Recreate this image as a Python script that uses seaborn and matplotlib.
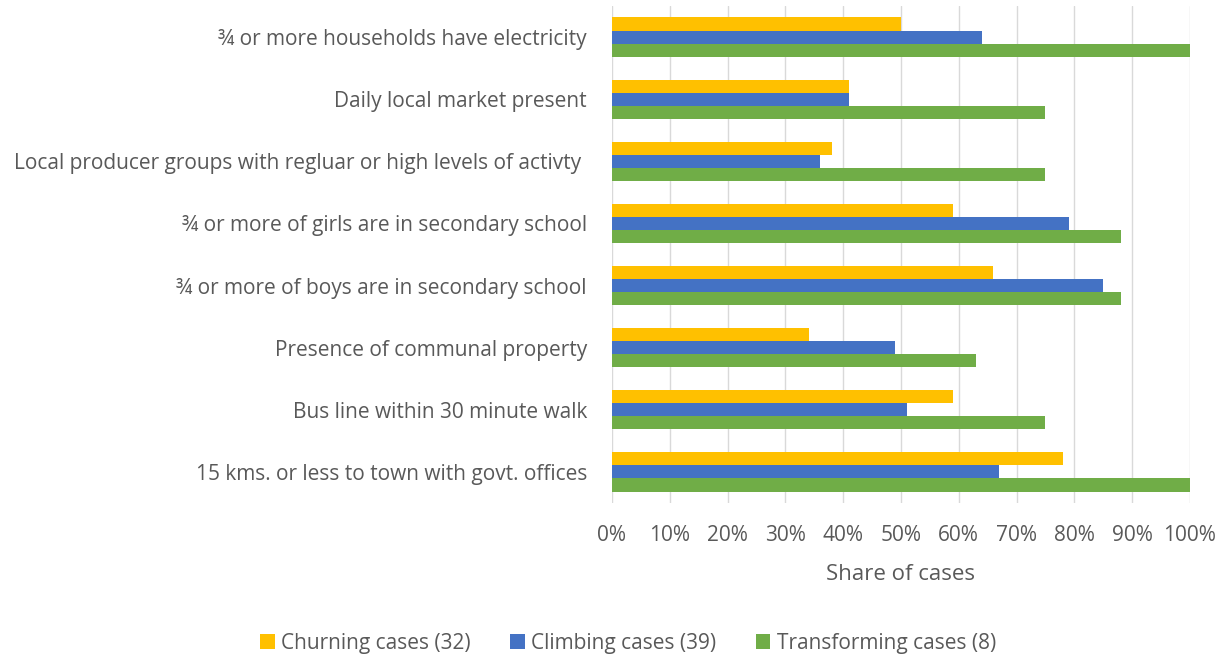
import matplotlib
matplotlib.use("Agg")
import matplotlib.pyplot as plt
import seaborn as sns
import pandas as pd
from matplotlib.ticker import PercentFormatter, MultipleLocator
from matplotlib.patches import Patch

categories = [
    "¾ or more households have electricity",
    "Daily local market present",
    "Local producer groups with regluar or high levels of activty ",
    "¾ or more of girls are in secondary school",
    "¾ or more of boys are in secondary school",
    "Presence of communal property",
    "Bus line within 30 minute walk",
    "15 kms. or less to town with govt. offices",
]
series_names = ["Churning cases (32)", "Climbing cases (39)", "Transforming cases (8)"]
churning = [50, 41, 38, 59, 66, 34, 59, 78]
climbing = [64, 41, 36, 79, 85, 49, 51, 67]
transforming = [100, 75, 75, 88, 88, 63, 75, 100]
colors = ["#FFC000", "#4472C4", "#70AD47"]

rows = []
for name, vals in zip(series_names, [churning, climbing, transforming]):
    for c, v in zip(categories, vals):
        rows.append({"category": c, "series": name, "value": v})
df = pd.DataFrame(rows)

sns.set_theme(style="white")
plt.rcParams["font.family"] = ["Open Sans", "DejaVu Sans"]
text_color = "#595959"

fig = plt.figure(figsize=(12.24, 6.57), dpi=100)
ax = fig.add_axes([0.5, 0.2344, 0.4722, 0.7565])

sns.barplot(data=df, y="category", x="value", hue="series", order=categories,
            hue_order=series_names, palette=colors, orient="h", width=0.63,
            saturation=1, ax=ax, legend=False, linewidth=0)

ax.set_xlim(0, 100)
ax.set_ylim(7.5, -0.5)
ax.xaxis.set_major_locator(MultipleLocator(10))
ax.xaxis.set_major_formatter(PercentFormatter(decimals=0))
ax.grid(axis="x", color="#D9D9D9", linewidth=1)
ax.set_axisbelow(True)
for s in ax.spines.values():
    s.set_visible(False)
ax.tick_params(axis="both", length=0, labelsize=15, colors=text_color)
ax.tick_params(axis="x", pad=16)
ax.tick_params(axis="y", pad=18)
ax.set_ylabel("")
ax.set_xlabel("Share of cases", fontsize=16, color=text_color, labelpad=13)

handles = [Patch(facecolor=c, edgecolor="none") for c in colors]
fig.legend(handles, series_names, loc="center", bbox_to_anchor=(628 / 1224, 0.021),
           ncol=3, frameon=False, fontsize=15, labelcolor=text_color,
           handlelength=0.7, handleheight=0.7, handletextpad=0.3, columnspacing=1.9)

fig.savefig("out.png", dpi=100)
